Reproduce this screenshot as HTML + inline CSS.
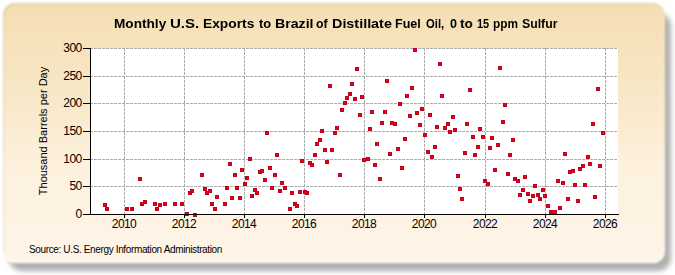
<!DOCTYPE html>
<html><head><meta charset="utf-8"><style>
html,body{margin:0;padding:0;width:675px;height:275px;overflow:hidden;background:#fff}
body{position:relative;font-family:"Liberation Sans",sans-serif}
#shadow{position:absolute;left:9px;top:13px;width:662px;height:258px;border-radius:13px;background:rgba(0,0,0,0.31);filter:blur(2.4px)}
#panel{position:absolute;left:3px;top:3px;width:662px;height:260px;border-radius:12px;filter:blur(1px);
background:linear-gradient(to bottom,#f5deb4 0%,#f8e7c6 33%,#fdf1de 62%,#fff5e8 100%);
box-shadow:inset 0 -3px 2px -1px rgba(255,255,255,0.9),inset 2px 2px 2px -1px rgba(150,140,80,0.22)}
#title{position:absolute;left:0;width:675px;top:16px;height:20px;font-weight:bold;font-size:13.33px;color:#000;white-space:nowrap}
.tw{position:absolute;top:0;transform-origin:0 0}
#ytitle{position:absolute;left:-32px;top:124px;width:150px;height:14px;line-height:14px;text-align:center;font-size:11px;transform:rotate(-90deg);white-space:nowrap}
.yl{position:absolute;left:40px;width:41.6px;text-align:right;font-size:12px;letter-spacing:-0.6px;line-height:16px;height:16px}
.xl{position:absolute;top:217px;width:40px;text-align:center;font-size:12px;letter-spacing:-0.6px;line-height:14px}
#src{position:absolute;left:29px;top:244px;font-size:10px;letter-spacing:-0.36px;white-space:nowrap}
svg{position:absolute;left:0;top:0}
</style></head><body>
<div id="shadow"></div><div id="panel"></div>
<div id="title"><span class="tw" style="left:113.88px;transform:scaleX(1.022)">Monthly</span><span class="tw" style="left:170.07px;transform:scaleX(1.129)">U.S.</span><span class="tw" style="left:203.06px;transform:scaleX(1.035)">Exports</span><span class="tw" style="left:259.10px;transform:scaleX(0.967)">to</span><span class="tw" style="left:274.64px;transform:scaleX(1.062)">Brazil</span><span class="tw" style="left:316.20px;transform:scaleX(0.923)">of</span><span class="tw" style="left:332.32px;transform:scaleX(1.078)">Distillate</span><span class="tw" style="left:395.46px;transform:scaleX(0.942)">Fuel</span><span class="tw" style="left:426.20px;transform:scaleX(0.848)">Oil,</span><span class="tw" style="left:449.80px;transform:scaleX(0.943)">0</span><span class="tw" style="left:460.00px;transform:scaleX(1.000)">to</span><span class="tw" style="left:476.58px;transform:scaleX(0.820)">15</span><span class="tw" style="left:492.71px;transform:scaleX(0.889)">ppm</span><span class="tw" style="left:521.88px;transform:scaleX(0.922)">Sulfur</span></div>
<svg width="675" height="275" viewBox="0 0 675 275" shape-rendering="crispEdges">
<rect x="90" y="48" width="528" height="166" fill="#fff"/>
<line x1="91" y1="48.5" x2="618" y2="48.5" stroke="#ababab" stroke-dasharray="3 1" stroke-dashoffset="1"/>
<line x1="91" y1="76.5" x2="618" y2="76.5" stroke="#ababab" stroke-dasharray="3 1" stroke-dashoffset="1"/>
<line x1="91" y1="103.5" x2="618" y2="103.5" stroke="#ababab" stroke-dasharray="3 1" stroke-dashoffset="1"/>
<line x1="91" y1="131.5" x2="618" y2="131.5" stroke="#ababab" stroke-dasharray="3 1" stroke-dashoffset="1"/>
<line x1="91" y1="159.5" x2="618" y2="159.5" stroke="#ababab" stroke-dasharray="3 1" stroke-dashoffset="1"/>
<line x1="91" y1="186.5" x2="618" y2="186.5" stroke="#ababab" stroke-dasharray="3 1" stroke-dashoffset="1"/>
<line x1="124.5" y1="48" x2="124.5" y2="214" stroke="#ababab" stroke-dasharray="3 1"/>
<line x1="184.5" y1="48" x2="184.5" y2="214" stroke="#ababab" stroke-dasharray="3 1"/>
<line x1="244.5" y1="48" x2="244.5" y2="214" stroke="#ababab" stroke-dasharray="3 1"/>
<line x1="304.5" y1="48" x2="304.5" y2="214" stroke="#ababab" stroke-dasharray="3 1"/>
<line x1="364.5" y1="48" x2="364.5" y2="214" stroke="#ababab" stroke-dasharray="3 1"/>
<line x1="424.5" y1="48" x2="424.5" y2="214" stroke="#ababab" stroke-dasharray="3 1"/>
<line x1="485.5" y1="48" x2="485.5" y2="214" stroke="#ababab" stroke-dasharray="3 1"/>
<line x1="545.5" y1="48" x2="545.5" y2="214" stroke="#ababab" stroke-dasharray="3 1"/>
<line x1="605.5" y1="48" x2="605.5" y2="214" stroke="#ababab" stroke-dasharray="3 1"/>
<rect x="103.5" y="203.5" width="3" height="3" fill="#e6001e" stroke="#c20018" stroke-width="1"/>
<rect x="105.5" y="207.5" width="3" height="3" fill="#e6001e" stroke="#c20018" stroke-width="1"/>
<rect x="125.5" y="207.5" width="3" height="3" fill="#e6001e" stroke="#c20018" stroke-width="1"/>
<rect x="130.5" y="207.5" width="3" height="3" fill="#e6001e" stroke="#c20018" stroke-width="1"/>
<rect x="138.5" y="177.5" width="3" height="3" fill="#e6001e" stroke="#c20018" stroke-width="1"/>
<rect x="140.5" y="202.5" width="3" height="3" fill="#e6001e" stroke="#c20018" stroke-width="1"/>
<rect x="143.5" y="200.5" width="3" height="3" fill="#e6001e" stroke="#c20018" stroke-width="1"/>
<rect x="153.5" y="202.5" width="3" height="3" fill="#e6001e" stroke="#c20018" stroke-width="1"/>
<rect x="155.5" y="207.5" width="3" height="3" fill="#e6001e" stroke="#c20018" stroke-width="1"/>
<rect x="158.5" y="203.5" width="3" height="3" fill="#e6001e" stroke="#c20018" stroke-width="1"/>
<rect x="163.5" y="202.5" width="3" height="3" fill="#e6001e" stroke="#c20018" stroke-width="1"/>
<rect x="173.5" y="202.5" width="3" height="3" fill="#e6001e" stroke="#c20018" stroke-width="1"/>
<rect x="180.5" y="202.5" width="3" height="3" fill="#e6001e" stroke="#c20018" stroke-width="1"/>
<rect x="185.5" y="212.5" width="3" height="3" fill="#e6001e" stroke="#c20018" stroke-width="1"/>
<rect x="193.5" y="213.5" width="3" height="3" fill="#e6001e" stroke="#c20018" stroke-width="1"/>
<rect x="188.5" y="191.5" width="3" height="3" fill="#e6001e" stroke="#c20018" stroke-width="1"/>
<rect x="190.5" y="189.5" width="3" height="3" fill="#e6001e" stroke="#c20018" stroke-width="1"/>
<rect x="200.5" y="173.5" width="3" height="3" fill="#e6001e" stroke="#c20018" stroke-width="1"/>
<rect x="203.5" y="187.5" width="3" height="3" fill="#e6001e" stroke="#c20018" stroke-width="1"/>
<rect x="205.5" y="191.5" width="3" height="3" fill="#e6001e" stroke="#c20018" stroke-width="1"/>
<rect x="208.5" y="189.5" width="3" height="3" fill="#e6001e" stroke="#c20018" stroke-width="1"/>
<rect x="215.5" y="195.5" width="3" height="3" fill="#e6001e" stroke="#c20018" stroke-width="1"/>
<rect x="210.5" y="202.5" width="3" height="3" fill="#e6001e" stroke="#c20018" stroke-width="1"/>
<rect x="213.5" y="207.5" width="3" height="3" fill="#e6001e" stroke="#c20018" stroke-width="1"/>
<rect x="223.5" y="202.5" width="3" height="3" fill="#e6001e" stroke="#c20018" stroke-width="1"/>
<rect x="225.5" y="186.5" width="3" height="3" fill="#e6001e" stroke="#c20018" stroke-width="1"/>
<rect x="230.5" y="196.5" width="3" height="3" fill="#e6001e" stroke="#c20018" stroke-width="1"/>
<rect x="233.5" y="173.5" width="3" height="3" fill="#e6001e" stroke="#c20018" stroke-width="1"/>
<rect x="235.5" y="186.5" width="3" height="3" fill="#e6001e" stroke="#c20018" stroke-width="1"/>
<rect x="238.5" y="196.5" width="3" height="3" fill="#e6001e" stroke="#c20018" stroke-width="1"/>
<rect x="243.5" y="182.5" width="3" height="3" fill="#e6001e" stroke="#c20018" stroke-width="1"/>
<rect x="245.5" y="176.5" width="3" height="3" fill="#e6001e" stroke="#c20018" stroke-width="1"/>
<rect x="250.5" y="194.5" width="3" height="3" fill="#e6001e" stroke="#c20018" stroke-width="1"/>
<rect x="253.5" y="188.5" width="3" height="3" fill="#e6001e" stroke="#c20018" stroke-width="1"/>
<rect x="255.5" y="191.5" width="3" height="3" fill="#e6001e" stroke="#c20018" stroke-width="1"/>
<rect x="263.5" y="178.5" width="3" height="3" fill="#e6001e" stroke="#c20018" stroke-width="1"/>
<rect x="270.5" y="186.5" width="3" height="3" fill="#e6001e" stroke="#c20018" stroke-width="1"/>
<rect x="273.5" y="173.5" width="3" height="3" fill="#e6001e" stroke="#c20018" stroke-width="1"/>
<rect x="278.5" y="189.5" width="3" height="3" fill="#e6001e" stroke="#c20018" stroke-width="1"/>
<rect x="280.5" y="181.5" width="3" height="3" fill="#e6001e" stroke="#c20018" stroke-width="1"/>
<rect x="283.5" y="186.5" width="3" height="3" fill="#e6001e" stroke="#c20018" stroke-width="1"/>
<rect x="228.5" y="162.5" width="3" height="3" fill="#e6001e" stroke="#c20018" stroke-width="1"/>
<rect x="240.5" y="168.5" width="3" height="3" fill="#e6001e" stroke="#c20018" stroke-width="1"/>
<rect x="248.5" y="157.5" width="3" height="3" fill="#e6001e" stroke="#c20018" stroke-width="1"/>
<rect x="258.5" y="170.5" width="3" height="3" fill="#e6001e" stroke="#c20018" stroke-width="1"/>
<rect x="260.5" y="169.5" width="3" height="3" fill="#e6001e" stroke="#c20018" stroke-width="1"/>
<rect x="268.5" y="166.5" width="3" height="3" fill="#e6001e" stroke="#c20018" stroke-width="1"/>
<rect x="275.5" y="153.5" width="3" height="3" fill="#e6001e" stroke="#c20018" stroke-width="1"/>
<rect x="265.5" y="131.5" width="3" height="3" fill="#e6001e" stroke="#c20018" stroke-width="1"/>
<rect x="290.5" y="191.5" width="3" height="3" fill="#e6001e" stroke="#c20018" stroke-width="1"/>
<rect x="288.5" y="207.5" width="3" height="3" fill="#e6001e" stroke="#c20018" stroke-width="1"/>
<rect x="293.5" y="202.5" width="3" height="3" fill="#e6001e" stroke="#c20018" stroke-width="1"/>
<rect x="295.5" y="204.5" width="3" height="3" fill="#e6001e" stroke="#c20018" stroke-width="1"/>
<rect x="298.5" y="190.5" width="3" height="3" fill="#e6001e" stroke="#c20018" stroke-width="1"/>
<rect x="303.5" y="190.5" width="3" height="3" fill="#e6001e" stroke="#c20018" stroke-width="1"/>
<rect x="305.5" y="191.5" width="3" height="3" fill="#e6001e" stroke="#c20018" stroke-width="1"/>
<rect x="338.5" y="173.5" width="3" height="3" fill="#e6001e" stroke="#c20018" stroke-width="1"/>
<rect x="300.5" y="159.5" width="3" height="3" fill="#e6001e" stroke="#c20018" stroke-width="1"/>
<rect x="308.5" y="161.5" width="3" height="3" fill="#e6001e" stroke="#c20018" stroke-width="1"/>
<rect x="310.5" y="163.5" width="3" height="3" fill="#e6001e" stroke="#c20018" stroke-width="1"/>
<rect x="313.5" y="153.5" width="3" height="3" fill="#e6001e" stroke="#c20018" stroke-width="1"/>
<rect x="315.5" y="142.5" width="3" height="3" fill="#e6001e" stroke="#c20018" stroke-width="1"/>
<rect x="318.5" y="138.5" width="3" height="3" fill="#e6001e" stroke="#c20018" stroke-width="1"/>
<rect x="323.5" y="148.5" width="3" height="3" fill="#e6001e" stroke="#c20018" stroke-width="1"/>
<rect x="325.5" y="160.5" width="3" height="3" fill="#e6001e" stroke="#c20018" stroke-width="1"/>
<rect x="330.5" y="148.5" width="3" height="3" fill="#e6001e" stroke="#c20018" stroke-width="1"/>
<rect x="362.5" y="158.5" width="3" height="3" fill="#e6001e" stroke="#c20018" stroke-width="1"/>
<rect x="366.5" y="157.5" width="3" height="3" fill="#e6001e" stroke="#c20018" stroke-width="1"/>
<rect x="373.5" y="163.5" width="3" height="3" fill="#e6001e" stroke="#c20018" stroke-width="1"/>
<rect x="375.5" y="142.5" width="3" height="3" fill="#e6001e" stroke="#c20018" stroke-width="1"/>
<rect x="320.5" y="129.5" width="3" height="3" fill="#e6001e" stroke="#c20018" stroke-width="1"/>
<rect x="333.5" y="131.5" width="3" height="3" fill="#e6001e" stroke="#c20018" stroke-width="1"/>
<rect x="335.5" y="126.5" width="3" height="3" fill="#e6001e" stroke="#c20018" stroke-width="1"/>
<rect x="340.5" y="108.5" width="3" height="3" fill="#e6001e" stroke="#c20018" stroke-width="1"/>
<rect x="343.5" y="101.5" width="3" height="3" fill="#e6001e" stroke="#c20018" stroke-width="1"/>
<rect x="345.5" y="96.5" width="3" height="3" fill="#e6001e" stroke="#c20018" stroke-width="1"/>
<rect x="348.5" y="92.5" width="3" height="3" fill="#e6001e" stroke="#c20018" stroke-width="1"/>
<rect x="353.5" y="97.5" width="3" height="3" fill="#e6001e" stroke="#c20018" stroke-width="1"/>
<rect x="360.5" y="95.5" width="3" height="3" fill="#e6001e" stroke="#c20018" stroke-width="1"/>
<rect x="358.5" y="113.5" width="3" height="3" fill="#e6001e" stroke="#c20018" stroke-width="1"/>
<rect x="368.5" y="127.5" width="3" height="3" fill="#e6001e" stroke="#c20018" stroke-width="1"/>
<rect x="370.5" y="110.5" width="3" height="3" fill="#e6001e" stroke="#c20018" stroke-width="1"/>
<rect x="383.5" y="110.5" width="3" height="3" fill="#e6001e" stroke="#c20018" stroke-width="1"/>
<rect x="385.5" y="79.5" width="3" height="3" fill="#e6001e" stroke="#c20018" stroke-width="1"/>
<rect x="328.5" y="84.5" width="3" height="3" fill="#e6001e" stroke="#c20018" stroke-width="1"/>
<rect x="350.5" y="82.5" width="3" height="3" fill="#e6001e" stroke="#c20018" stroke-width="1"/>
<rect x="355.5" y="67.5" width="3" height="3" fill="#e6001e" stroke="#c20018" stroke-width="1"/>
<rect x="378.5" y="177.5" width="3" height="3" fill="#e6001e" stroke="#c20018" stroke-width="1"/>
<rect x="413.5" y="48.5" width="3" height="3" fill="#e6001e" stroke="#c20018" stroke-width="1"/>
<rect x="438.5" y="62.5" width="3" height="3" fill="#e6001e" stroke="#c20018" stroke-width="1"/>
<rect x="410.5" y="86.5" width="3" height="3" fill="#e6001e" stroke="#c20018" stroke-width="1"/>
<rect x="405.5" y="94.5" width="3" height="3" fill="#e6001e" stroke="#c20018" stroke-width="1"/>
<rect x="398.5" y="102.5" width="3" height="3" fill="#e6001e" stroke="#c20018" stroke-width="1"/>
<rect x="380.5" y="121.5" width="3" height="3" fill="#e6001e" stroke="#c20018" stroke-width="1"/>
<rect x="390.5" y="121.5" width="3" height="3" fill="#e6001e" stroke="#c20018" stroke-width="1"/>
<rect x="393.5" y="122.5" width="3" height="3" fill="#e6001e" stroke="#c20018" stroke-width="1"/>
<rect x="408.5" y="114.5" width="3" height="3" fill="#e6001e" stroke="#c20018" stroke-width="1"/>
<rect x="415.5" y="111.5" width="3" height="3" fill="#e6001e" stroke="#c20018" stroke-width="1"/>
<rect x="420.5" y="107.5" width="3" height="3" fill="#e6001e" stroke="#c20018" stroke-width="1"/>
<rect x="418.5" y="123.5" width="3" height="3" fill="#e6001e" stroke="#c20018" stroke-width="1"/>
<rect x="428.5" y="113.5" width="3" height="3" fill="#e6001e" stroke="#c20018" stroke-width="1"/>
<rect x="435.5" y="125.5" width="3" height="3" fill="#e6001e" stroke="#c20018" stroke-width="1"/>
<rect x="440.5" y="94.5" width="3" height="3" fill="#e6001e" stroke="#c20018" stroke-width="1"/>
<rect x="446.5" y="122.5" width="3" height="3" fill="#e6001e" stroke="#c20018" stroke-width="1"/>
<rect x="451.5" y="115.5" width="3" height="3" fill="#e6001e" stroke="#c20018" stroke-width="1"/>
<rect x="465.5" y="122.5" width="3" height="3" fill="#e6001e" stroke="#c20018" stroke-width="1"/>
<rect x="468.5" y="88.5" width="3" height="3" fill="#e6001e" stroke="#c20018" stroke-width="1"/>
<rect x="443.5" y="126.5" width="3" height="3" fill="#e6001e" stroke="#c20018" stroke-width="1"/>
<rect x="448.5" y="130.5" width="3" height="3" fill="#e6001e" stroke="#c20018" stroke-width="1"/>
<rect x="453.5" y="128.5" width="3" height="3" fill="#e6001e" stroke="#c20018" stroke-width="1"/>
<rect x="471.5" y="135.5" width="3" height="3" fill="#e6001e" stroke="#c20018" stroke-width="1"/>
<rect x="403.5" y="137.5" width="3" height="3" fill="#e6001e" stroke="#c20018" stroke-width="1"/>
<rect x="423.5" y="133.5" width="3" height="3" fill="#e6001e" stroke="#c20018" stroke-width="1"/>
<rect x="396.5" y="147.5" width="3" height="3" fill="#e6001e" stroke="#c20018" stroke-width="1"/>
<rect x="388.5" y="152.5" width="3" height="3" fill="#e6001e" stroke="#c20018" stroke-width="1"/>
<rect x="426.5" y="150.5" width="3" height="3" fill="#e6001e" stroke="#c20018" stroke-width="1"/>
<rect x="433.5" y="145.5" width="3" height="3" fill="#e6001e" stroke="#c20018" stroke-width="1"/>
<rect x="430.5" y="155.5" width="3" height="3" fill="#e6001e" stroke="#c20018" stroke-width="1"/>
<rect x="463.5" y="151.5" width="3" height="3" fill="#e6001e" stroke="#c20018" stroke-width="1"/>
<rect x="473.5" y="153.5" width="3" height="3" fill="#e6001e" stroke="#c20018" stroke-width="1"/>
<rect x="400.5" y="166.5" width="3" height="3" fill="#e6001e" stroke="#c20018" stroke-width="1"/>
<rect x="456.5" y="174.5" width="3" height="3" fill="#e6001e" stroke="#c20018" stroke-width="1"/>
<rect x="458.5" y="187.5" width="3" height="3" fill="#e6001e" stroke="#c20018" stroke-width="1"/>
<rect x="460.5" y="197.5" width="3" height="3" fill="#e6001e" stroke="#c20018" stroke-width="1"/>
<rect x="483.5" y="179.5" width="3" height="3" fill="#e6001e" stroke="#c20018" stroke-width="1"/>
<rect x="486.5" y="182.5" width="3" height="3" fill="#e6001e" stroke="#c20018" stroke-width="1"/>
<rect x="513.5" y="177.5" width="3" height="3" fill="#e6001e" stroke="#c20018" stroke-width="1"/>
<rect x="516.5" y="179.5" width="3" height="3" fill="#e6001e" stroke="#c20018" stroke-width="1"/>
<rect x="523.5" y="175.5" width="3" height="3" fill="#e6001e" stroke="#c20018" stroke-width="1"/>
<rect x="533.5" y="184.5" width="3" height="3" fill="#e6001e" stroke="#c20018" stroke-width="1"/>
<rect x="521.5" y="188.5" width="3" height="3" fill="#e6001e" stroke="#c20018" stroke-width="1"/>
<rect x="518.5" y="193.5" width="3" height="3" fill="#e6001e" stroke="#c20018" stroke-width="1"/>
<rect x="526.5" y="192.5" width="3" height="3" fill="#e6001e" stroke="#c20018" stroke-width="1"/>
<rect x="531.5" y="194.5" width="3" height="3" fill="#e6001e" stroke="#c20018" stroke-width="1"/>
<rect x="528.5" y="199.5" width="3" height="3" fill="#e6001e" stroke="#c20018" stroke-width="1"/>
<rect x="536.5" y="193.5" width="3" height="3" fill="#e6001e" stroke="#c20018" stroke-width="1"/>
<rect x="538.5" y="197.5" width="3" height="3" fill="#e6001e" stroke="#c20018" stroke-width="1"/>
<rect x="481.5" y="135.5" width="3" height="3" fill="#e6001e" stroke="#c20018" stroke-width="1"/>
<rect x="490.5" y="136.5" width="3" height="3" fill="#e6001e" stroke="#c20018" stroke-width="1"/>
<rect x="511.5" y="138.5" width="3" height="3" fill="#e6001e" stroke="#c20018" stroke-width="1"/>
<rect x="476.5" y="145.5" width="3" height="3" fill="#e6001e" stroke="#c20018" stroke-width="1"/>
<rect x="488.5" y="146.5" width="3" height="3" fill="#e6001e" stroke="#c20018" stroke-width="1"/>
<rect x="496.5" y="143.5" width="3" height="3" fill="#e6001e" stroke="#c20018" stroke-width="1"/>
<rect x="508.5" y="153.5" width="3" height="3" fill="#e6001e" stroke="#c20018" stroke-width="1"/>
<rect x="563.5" y="152.5" width="3" height="3" fill="#e6001e" stroke="#c20018" stroke-width="1"/>
<rect x="493.5" y="168.5" width="3" height="3" fill="#e6001e" stroke="#c20018" stroke-width="1"/>
<rect x="506.5" y="172.5" width="3" height="3" fill="#e6001e" stroke="#c20018" stroke-width="1"/>
<rect x="503.5" y="103.5" width="3" height="3" fill="#e6001e" stroke="#c20018" stroke-width="1"/>
<rect x="501.5" y="120.5" width="3" height="3" fill="#e6001e" stroke="#c20018" stroke-width="1"/>
<rect x="478.5" y="127.5" width="3" height="3" fill="#e6001e" stroke="#c20018" stroke-width="1"/>
<rect x="498.5" y="66.5" width="3" height="3" fill="#e6001e" stroke="#c20018" stroke-width="1"/>
<rect x="541.5" y="188.5" width="3" height="3" fill="#e6001e" stroke="#c20018" stroke-width="1"/>
<rect x="543.5" y="194.5" width="3" height="3" fill="#e6001e" stroke="#c20018" stroke-width="1"/>
<rect x="546.5" y="204.5" width="3" height="3" fill="#e6001e" stroke="#c20018" stroke-width="1"/>
<rect x="549.5" y="210.5" width="3" height="3" fill="#e6001e" stroke="#c20018" stroke-width="1"/>
<rect x="551.5" y="210.5" width="3" height="3" fill="#e6001e" stroke="#c20018" stroke-width="1"/>
<rect x="553.5" y="210.5" width="3" height="3" fill="#e6001e" stroke="#c20018" stroke-width="1"/>
<rect x="558.5" y="206.5" width="3" height="3" fill="#e6001e" stroke="#c20018" stroke-width="1"/>
<rect x="556.5" y="179.5" width="3" height="3" fill="#e6001e" stroke="#c20018" stroke-width="1"/>
<rect x="561.5" y="181.5" width="3" height="3" fill="#e6001e" stroke="#c20018" stroke-width="1"/>
<rect x="566.5" y="197.5" width="3" height="3" fill="#e6001e" stroke="#c20018" stroke-width="1"/>
<rect x="573.5" y="183.5" width="3" height="3" fill="#e6001e" stroke="#c20018" stroke-width="1"/>
<rect x="576.5" y="199.5" width="3" height="3" fill="#e6001e" stroke="#c20018" stroke-width="1"/>
<rect x="583.5" y="183.5" width="3" height="3" fill="#e6001e" stroke="#c20018" stroke-width="1"/>
<rect x="593.5" y="195.5" width="3" height="3" fill="#e6001e" stroke="#c20018" stroke-width="1"/>
<rect x="586.5" y="155.5" width="3" height="3" fill="#e6001e" stroke="#c20018" stroke-width="1"/>
<rect x="588.5" y="162.5" width="3" height="3" fill="#e6001e" stroke="#c20018" stroke-width="1"/>
<rect x="598.5" y="164.5" width="3" height="3" fill="#e6001e" stroke="#c20018" stroke-width="1"/>
<rect x="581.5" y="164.5" width="3" height="3" fill="#e6001e" stroke="#c20018" stroke-width="1"/>
<rect x="578.5" y="167.5" width="3" height="3" fill="#e6001e" stroke="#c20018" stroke-width="1"/>
<rect x="571.5" y="169.5" width="3" height="3" fill="#e6001e" stroke="#c20018" stroke-width="1"/>
<rect x="568.5" y="170.5" width="3" height="3" fill="#e6001e" stroke="#c20018" stroke-width="1"/>
<rect x="596.5" y="87.5" width="3" height="3" fill="#e6001e" stroke="#c20018" stroke-width="1"/>
<rect x="591.5" y="122.5" width="3" height="3" fill="#e6001e" stroke="#c20018" stroke-width="1"/>
<rect x="601.5" y="131.5" width="3" height="3" fill="#e6001e" stroke="#c20018" stroke-width="1"/>
<rect x="90" y="48" width="1" height="167" fill="#000"/>
<rect x="90" y="214" width="529" height="1" fill="#000"/>
<rect x="83" y="48" width="7" height="1" fill="#000"/>
<rect x="83" y="76" width="7" height="1" fill="#000"/>
<rect x="83" y="103" width="7" height="1" fill="#000"/>
<rect x="83" y="131" width="7" height="1" fill="#000"/>
<rect x="83" y="159" width="7" height="1" fill="#000"/>
<rect x="83" y="186" width="7" height="1" fill="#000"/>
<rect x="83" y="214" width="7" height="1" fill="#000"/>
<rect x="124" y="215" width="1" height="3" fill="#000"/>
<rect x="184" y="215" width="1" height="3" fill="#000"/>
<rect x="244" y="215" width="1" height="3" fill="#000"/>
<rect x="304" y="215" width="1" height="3" fill="#000"/>
<rect x="364" y="215" width="1" height="3" fill="#000"/>
<rect x="424" y="215" width="1" height="3" fill="#000"/>
<rect x="485" y="215" width="1" height="3" fill="#000"/>
<rect x="545" y="215" width="1" height="3" fill="#000"/>
<rect x="605" y="215" width="1" height="3" fill="#000"/>
</svg>
<div id="ytitle">Thousand Barrels per Day</div>
<div class="yl" style="top:40px">300</div><div class="yl" style="top:68px">250</div><div class="yl" style="top:95px">200</div><div class="yl" style="top:123px">150</div><div class="yl" style="top:151px">100</div><div class="yl" style="top:178px">50</div><div class="yl" style="top:206px">0</div>
<div class="xl" style="left:104px">2010</div><div class="xl" style="left:164px">2012</div><div class="xl" style="left:224px">2014</div><div class="xl" style="left:284px">2016</div><div class="xl" style="left:344px">2018</div><div class="xl" style="left:404px">2020</div><div class="xl" style="left:465px">2022</div><div class="xl" style="left:525px">2024</div><div class="xl" style="left:585px">2026</div>
<div id="src">Source: U.S. Energy Information Administration</div>
</body></html>
